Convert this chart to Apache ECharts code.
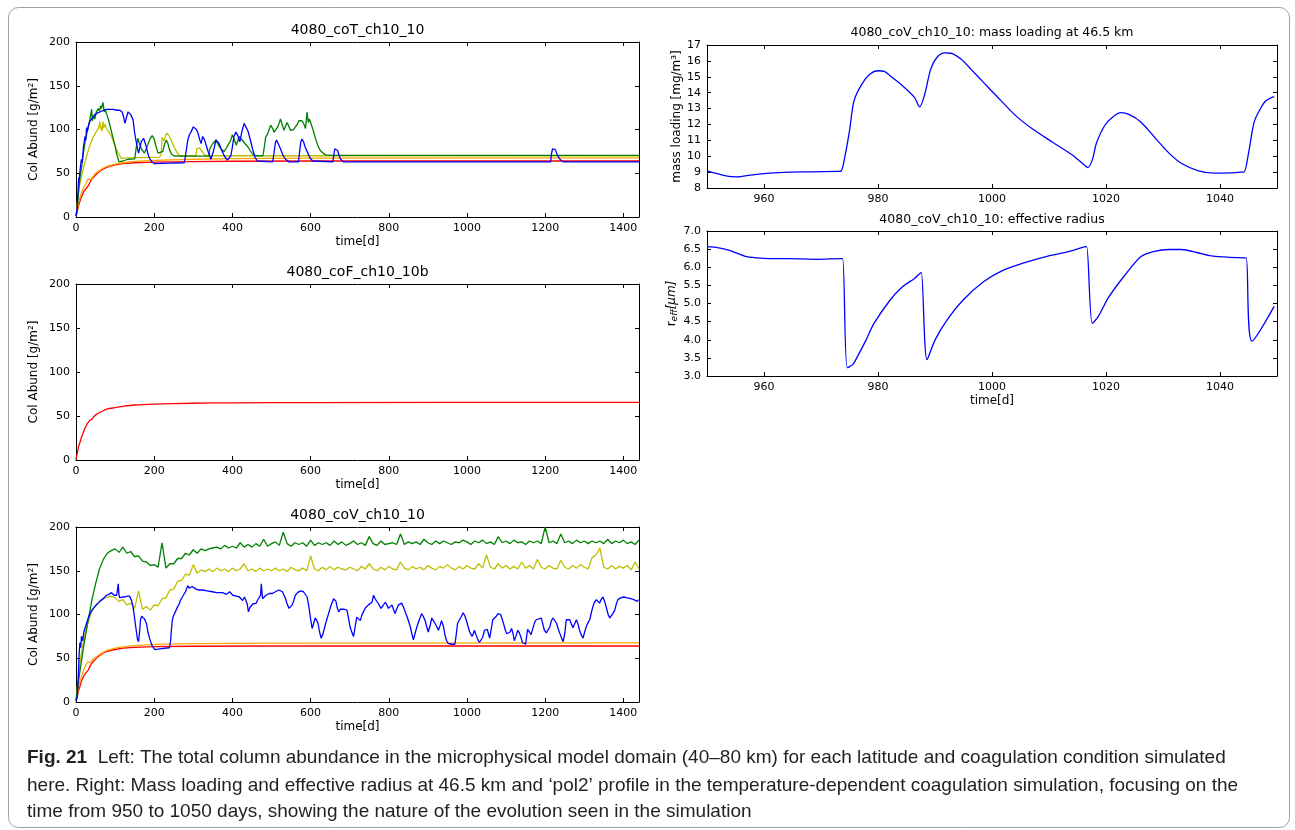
<!DOCTYPE html>
<html><head><meta charset="utf-8">
<script src="https://cdn.jsdelivr.net/npm/echarts@6/dist/echarts.min.js"></script>
<style>html,body{margin:0;padding:0;background:#fff}#c{width:1295px;height:830px}</style>
</head><body><div id="c"></div>
<script>
// ---------- Titles / labels ----------
const titles = ['4080_coT_ch10_10', '4080_coF_ch10_10b', '4080_coV_ch10_10',
  '4080_coV_ch10_10: mass loading at 46.5 km', '4080_coV_ch10_10: effective radius'];
const leftYTicks = [0, 50, 100, 150, 200];
const leftXTicks = [0, 200, 400, 600, 800, 1000, 1200, 1400];
const rightXTicks = [960, 980, 1000, 1020, 1040];

// ---------- Plot 1: 4080_coT_ch10_10 ----------
const coT_red = [[0,1],[3,6],[6,12],[10,18],[15,24],[20,29],[25,32],[28,31],[32,36],[36,40],[40,43],[45,45],[50,48],[60,52],[70,55],[80,57],[100,59.5],[120,61],[150,62],[200,62.8],[300,63.3],[400,63.7],[600,64],[1440,64]];
const coT_orange = [[0,1],[3,8],[6,15],[10,22],[15,29],[20,34],[25,38],[30,43],[34,45],[38,43],[45,47],[50,50],[60,53],[70,56],[80,58],[100,60.5],[120,62],[150,63.5],[200,64.8],[300,66],[400,66.8],[600,67.3],[1440,67.5]];
const coT_yellow = [[0,1],[3,15],[6,28],[10,38],[15,48],[20,58],[25,66],[32,77],[38,85],[44,91],[50,96],[57,101],[60,106],[61,109],[63,100],[65,104],[67,98],[69,109],[71,102],[74,106],[78,101],[82,99],[91,92],[99,82],[108,73],[116,67],[133,67.5],[171,68],[214,68.5],[218,72],[220,91],[223,89],[225,87],[229,93],[233,96],[236,95],[239,92],[246,85],[252,79],[258,74],[265,70],[307,70],[309,78],[311,80],[316,79],[320,78],[324,74],[328,71],[337,70],[1440,70]];
const coT_green = [[0,1],[3,10],[7,30],[10,45],[14,56],[18,70],[22,82],[25,90],[27,92],[30,100],[33,106],[36,112],[38,118],[40,123],[42,110],[45,116],[48,112],[52,120],[55,118],[57,124],[60,121],[63,127],[65,124],[67,126],[69,131],[71,124],[72,120],[75,123],[78,118],[82,113],[86,106],[92,95],[99,83],[104,72],[110,63],[115,63],[120,64],[133,66],[150,66.5],[154,68],[156,85],[158,90],[162,84],[167,78],[175,73],[184,83],[190,90],[195,93],[200,89],[205,80],[210,73],[214,71],[222,75],[227,84],[231,88],[235,84],[239,77],[244,72],[250,70],[265,69.5],[340,69.5],[342,78],[350,84],[358,88],[362,84],[366,81],[372,77],[379,75],[385,79],[390,77],[396,88],[400,94],[405,88],[410,82],[413,80],[417,92],[420,94],[425,88],[432,84],[440,80],[451,72],[460,70],[478,70],[481,78],[485,91],[490,95],[494,100],[498,105],[503,101],[507,97],[511,95],[516,103],[520,108],[523,112],[527,106],[532,99],[536,104],[540,108],[545,103],[549,99],[553,97],[557,100],[561,103],[566,106],[570,110],[574,112],[578,110],[583,106],[587,101],[589,99],[591,120],[594,108],[597,112],[600,110],[606,100],[613,89],[619,81],[625,76],[632,73],[638,71],[655,70.5],[1440,70.5]];
const coT_blue = [[0,1],[3,8],[5,30],[7,45],[8,40],[10,52],[12,60],[14,66],[16,62],[19,80],[21,78],[23,92],[25,88],[27,102],[29,98],[32,105],[36,110],[40,112],[44,114],[48,117],[55,119],[61,120],[70,122],[78,123],[95,123],[105,122],[112,122],[118,120],[122,114],[125,107],[128,112],[133,120],[137,118],[140,117],[146,111],[150,96],[154,86],[157,79],[160,73],[163,71],[167,86],[173,90],[176,88],[180,80],[184,72],[188,67],[194,63],[201,61],[239,61.5],[277,62],[280,70],[286,88],[290,94],[294,97],[300,103],[303,104],[308,100],[312,96],[316,89],[320,84],[324,92],[328,89],[333,82],[337,76],[341,71],[345,66],[348,65],[352,76],[358,88],[362,90],[366,84],[372,77],[379,70],[387,65],[392,64],[396,70],[400,80],[404,92],[409,97],[414,93],[419,86],[424,97],[430,107],[434,106],[440,98],[446,88],[452,77],[458,68],[464,64],[468,63],[503,63],[506,72],[510,85],[513,88],[517,86],[523,78],[530,70],[536,66],[545,63],[569,63],[572,75],[575,86],[578,89],[582,86],[586,80],[591,75],[598,68],[605,64],[608,63],[657,63],[659,70],[662,78],[665,80],[669,76],[673,70],[677,66],[684,63],[1214,63],[1216,72],[1219,78],[1222,80],[1226,77],[1231,71],[1236,67],[1242,64],[1248,63],[1440,63]];

// ---------- Plot 2: 4080_coF_ch10_10b ----------
const coF_red = [[0,1],[3,7],[6,14],[10,20],[15,27],[20,33],[25,38],[30,42],[35,45],[40,46],[45,49],[50,51],[60,54],[70,56],[80,58],[100,59.5],[120,61],[150,62.5],[200,63.5],[300,64.5],[400,65],[600,65.3],[1440,65.5]];

// ---------- Plot 3: 4080_coV_ch10_10 ----------
const coV_red = [[0,1],[3,6],[6,12],[10,18],[15,25],[20,30],[25,33],[28,32],[32,37],[36,41],[40,44],[45,46],[50,49],[60,53],[70,56],[80,58],[100,60],[120,61.5],[150,62.5],[200,63.2],[300,63.7],[500,64],[1440,64]];
const coV_orange = [[0,1],[3,8],[6,16],[10,23],[15,31],[20,37],[25,42],[30,46],[33,47],[37,45],[42,48],[50,51],[60,54],[70,57],[80,59],[100,61.5],[120,63],[150,64.5],[200,65.8],[300,66.7],[500,67.2],[1440,67.5]];
// sampled every 10 days, from day 0 to day 1440
const coV_green = [
 2,35,65,90,115,135,152,163,170,173,
 175,171,177,170,172,166,167,161,160,156,
 157,154,182,153,158,158,164,164,170,168,
 174,170,175,173,175,176,177,175,179,176,
 178,176,182,177,180,177,181,178,186,178,
 181,183,179,194,181,178,182,180,182,178,
 185,179,182,180,182,179,184,180,183,179,
 181,184,180,182,179,189,181,179,184,180,
 181,182,180,192,180,183,181,183,180,186,
 182,180,184,181,184,182,180,183,182,185,
 183,180,184,182,185,181,183,180,189,182,
 184,181,185,182,183,180,184,182,184,181,
 200,182,184,181,192,182,184,181,185,182,
 184,181,184,182,184,181,186,181,184,182,
 185,181,183,180,185];
const coV_yellow = [
 2,45,72,90,103,110,115,118,120,121,
 119,115,117,111,113,107,127,106,109,105,
 111,110,118,119,128,129,138,139,146,145,
 157,147,151,149,152,149,153,150,152,149,
 153,150,152,158,150,152,149,153,150,152,
 150,153,150,152,149,154,151,150,153,150,
 167,152,150,154,151,155,151,154,152,151,
 154,152,150,155,152,158,152,150,154,151,
 155,152,151,160,153,151,155,152,154,151,
 156,153,151,155,153,157,153,151,155,152,
 156,153,152,158,153,168,154,152,158,153,
 156,152,155,152,160,153,156,152,163,154,
 152,156,153,152,162,154,152,156,153,157,
 154,152,165,168,176,154,152,156,152,155,
 153,156,151,160,152];
const coV_blue = [[0,1],[3,5],[6,30],[8,55],[10,68],[12,62],[14,75],[17,70],[20,80],[23,82],[27,90],[32,97],[38,103],[44,107],[50,110],[55,112],[61,115],[66,117],[72,119],[78,122],[84,123],[91,125],[97,122],[100,124],[104,122],[106,128],[108,135],[110,122],[112,119],[118,120],[125,120],[131,121],[137,121],[142,116],[146,109],[150,95],[154,82],[157,72],[160,69],[163,82],[165,94],[168,98],[171,99],[175,95],[180,90],[184,80],[188,73],[194,65],[201,60],[210,60.5],[218,61],[239,62],[242,70],[244,82],[246,92],[248,97],[251,100],[254,103],[257,105],[260,109],[264,112],[267,116],[272,120],[277,122],[280,126],[283,128],[286,133],[290,130],[297,132],[302,130],[307,129],[315,128],[324,128],[335,127],[349,126],[360,125],[375,125],[385,123],[393,126],[401,122],[410,121],[418,120],[426,116],[431,120],[435,122],[438,112],[441,103],[445,108],[448,110],[452,112],[457,114],[461,113],[464,116],[468,118],[472,122],[474,135],[477,118],[481,120],[486,122],[494,124],[502,124],[510,126],[519,128],[524,126],[528,126],[532,122],[536,118],[540,112],[545,107],[549,109],[553,111],[557,116],[561,122],[567,125],[574,127],[578,126],[582,126],[587,124],[591,120],[594,113],[597,105],[600,95],[604,84],[608,90],[612,96],[616,93],[619,90],[623,80],[627,73],[631,77],[634,82],[640,92],[646,101],[652,110],[659,118],[662,117],[665,115],[668,108],[672,103],[676,106],[680,108],[686,106],[693,105],[697,96],[701,86],[706,79],[710,75],[714,86],[718,97],[722,95],[727,93],[731,99],[735,103],[741,108],[748,111],[752,112],[757,114],[761,122],[765,118],[769,116],[774,112],[780,107],[785,110],[791,114],[795,111],[799,107],[803,109],[808,111],[812,106],[816,101],[820,106],[825,111],[829,112],[833,113],[838,108],[842,103],[848,96],[855,86],[859,78],[863,71],[867,78],[872,86],[878,94],[884,101],[888,98],[893,93],[897,86],[901,80],[906,88],[910,96],[914,93],[918,90],[923,86],[927,82],[931,87],[935,93],[940,86],[944,76],[948,70],[952,67],[960,66],[969,66],[972,75],[976,90],[981,92],[986,98],[990,102],[994,99],[998,94],[1003,86],[1007,80],[1013,75],[1016,78],[1019,82],[1023,77],[1028,71],[1032,68],[1036,67.5],[1040,74],[1045,82],[1049,84],[1052,83],[1055,78],[1058,73],[1062,83],[1066,94],[1071,96],[1075,98],[1079,101],[1083,103],[1086,100],[1089,96],[1094,89],[1098,82],[1102,78],[1106,77],[1110,80],[1114,84],[1118,78],[1121,70],[1125,75],[1130,82],[1134,79],[1138,74],[1142,68],[1146,66],[1150,66],[1155,83],[1160,80],[1164,77],[1169,85],[1173,91],[1177,94],[1184,95],[1190,96],[1194,89],[1198,82],[1203,79],[1207,77],[1212,86],[1216,93],[1220,96],[1225,94],[1229,90],[1233,84],[1237,79],[1242,73],[1246,69],[1250,78],[1254,94],[1259,95],[1263,94],[1267,89],[1271,85],[1276,90],[1280,94],[1284,89],[1288,82],[1292,77],[1297,73],[1301,80],[1305,86],[1310,91],[1314,94],[1318,102],[1322,109],[1326,114],[1331,117],[1335,115],[1339,113],[1343,117],[1348,120],[1352,115],[1356,109],[1361,100],[1365,96],[1369,96],[1373,101],[1378,105],[1382,112],[1386,117],[1390,118],[1393,119],[1397,118],[1401,120],[1406,118],[1410,119],[1414,117.5],[1420,118],[1427,117],[1431,116],[1435,115],[1440,117]];

// ---------- Right plots ----------
const massLoading = [[950,9.08],[953.8,8.73],[955.2,8.70],[958,8.83],[960.9,8.93],[964.4,9.0],[968,9.02],[973,9.05],[973.5,9.06],[974.3,10.18],[975,11.6],[975.8,13.5],[977.2,14.55],[978.6,15.17],[980,15.38],[981.1,15.34],[982.1,15.07],[984.3,14.44],[986.4,13.7],[987.3,13.1],[988.2,13.9],[989.2,15.42],[990.3,16.2],[991.7,16.5],[992.8,16.48],[994.6,16.1],[996.3,15.48],[998.5,14.65],[1001.3,13.6],[1004.1,12.57],[1007,11.74],[1010.5,10.91],[1014.1,10.08],[1016.2,9.45],[1016.8,9.29],[1017.6,9.77],[1018.3,10.8],[1019.8,11.95],[1021.2,12.47],[1022.6,12.74],[1024,12.63],[1026.1,12.16],[1029,11.0],[1031.1,10.18],[1033.2,9.56],[1036.1,9.1],[1038.9,8.93],[1041.8,8.95],[1043.7,9.0],[1044.2,9.0],[1045,10.18],[1046,12.16],[1047.1,13.0],[1048.1,13.5],[1049.5,13.75]];
const effRadius = [[950,6.57],[951.6,6.55],[953.8,6.47],[956.6,6.31],[958.7,6.26],[960.9,6.24],[964.4,6.24],[969.4,6.22],[973.3,6.24],[973.8,6.24],[974.6,3.23],[975.6,3.32],[976.5,3.57],[977.9,3.99],[979.3,4.45],[982.1,5.09],[984.3,5.46],[986.4,5.69],[987.3,5.82],[987.6,5.85],[988.6,3.45],[990,3.99],[992.1,4.54],[994.9,5.09],[998.5,5.6],[1002,5.92],[1005.6,6.12],[1009.8,6.31],[1013.4,6.43],[1016.2,6.56],[1016.6,6.57],[1017.6,4.45],[1018.6,4.63],[1020.5,5.18],[1023.3,5.78],[1026.1,6.29],[1028.3,6.43],[1031.1,6.49],[1033.2,6.49],[1036.1,6.40],[1038.2,6.32],[1041.8,6.27],[1044.1,6.26],[1044.6,6.26],[1045.6,3.96],[1049.5,4.92]];

const captionLines = [
  'Left: The total column abundance in the microphysical model domain (40\u201380 km) for each latitude and coagulation condition simulated',
  'here. Right: Mass loading and effective radius at 46.5 km and \u2018pol2\u2019 profile in the temperature-dependent coagulation simulation, focusing on the',
  'time from 950 to 1050 days, showing the nature of the evolution seen in the simulation'];
const figLabel = 'Fig. 21';

// ---------- Build ----------
const C = {red:'#ff0000', orange:'#ffa500', yellow:'#bfbf00', green:'#008000', blue:'#0000ff'};
const F = 'DejaVu Sans';
const step10 = arr => arr.map((v, i) => [i * 10, v]);

const grids = [
  {left:76, top:42, width:563, height:175},
  {left:76, top:284, width:563, height:176},
  {left:76, top:527, width:563, height:175},
  {left:707, top:45, width:570, height:143},
  {left:707, top:231, width:570, height:145}
];
const lineC = {lineStyle:{color:'#000', width:1}};
function xAxes(gi, cfg) {
  const base = {type:'value', gridIndex:gi, min:cfg.min, max:cfg.max, splitLine:{show:false},
    axisLine:Object.assign({show:true, onZero:false}, lineC)};
  const tick = {show:true, inside:true, length:4, lineStyle:{color:'#000'}};
  if (cfg.interval) base.interval = cfg.interval;
  if (cfg.custom) tick.customValues = cfg.custom;
  const bottom = Object.assign({}, base, {position:'bottom', axisTick:tick,
    axisLabel:{show:true, color:'#000', fontFamily:F, fontSize:11, margin:6, formatter:v => String(v)}});
  if (cfg.custom) bottom.axisLabel.customValues = cfg.custom;
  else bottom.axisLabel.showMaxLabel = false;
  if (cfg.name) Object.assign(bottom, {name:cfg.name, nameLocation:'middle', nameGap:19,
    nameTextStyle:{color:'#000', fontFamily:F, fontSize:12}});
  const top = Object.assign({}, base, {position:'top', axisTick:tick, axisLabel:{show:false}});
  return [bottom, top];
}
function yAxes(gi, cfg) {
  const base = {type:'value', gridIndex:gi, min:cfg.min, max:cfg.max, interval:cfg.interval, splitLine:{show:false},
    axisLine:Object.assign({show:true, onZero:false}, lineC),
    axisTick:{show:true, inside:true, length:4, lineStyle:{color:'#000'}}};
  const left = Object.assign({}, base, {position:'left',
    axisLabel:{show:true, color:'#000', fontFamily:F, fontSize:11, margin:6,
      formatter: cfg.fmt || (v => String(v))},
    name:cfg.name, nameLocation:'middle', nameGap:cfg.gap,
    nameTextStyle:{color:'#000', fontFamily:F, fontSize:12, rich:cfg.rich}});
  const right = Object.assign({}, base, {position:'right', axisLabel:{show:false}});
  return [left, right];
}
const xAxis = [].concat(
  xAxes(0, {min:0, max:1440, interval:200, name:'time[d]'}),
  xAxes(1, {min:0, max:1440, interval:200, name:'time[d]'}),
  xAxes(2, {min:0, max:1440, interval:200, name:'time[d]'}),
  xAxes(3, {min:950, max:1050, custom:rightXTicks}),
  xAxes(4, {min:950, max:1050, custom:rightXTicks, name:'time[d]'})
);
const yAxis = [].concat(
  yAxes(0, {min:0, max:200, interval:50, name:'Col Abund [g/m\u00b2]', gap:36}),
  yAxes(1, {min:0, max:200, interval:50, name:'Col Abund [g/m\u00b2]', gap:36}),
  yAxes(2, {min:0, max:200, interval:50, name:'Col Abund [g/m\u00b2]', gap:36}),
  yAxes(3, {min:8, max:17, interval:1, name:'mass loading [mg/m\u00b3]', gap:24}),
  yAxes(4, {min:3, max:7, interval:0.5, fmt:v => v.toFixed(1),
    name:'r{sub|eff}{it|[\u03bcm]}', gap:26,
    rich:{sub:{fontSize:9, fontStyle:'italic', fontFamily:F, color:'#000', padding:[6,0,0,0]},
          it:{fontSize:12, fontStyle:'italic', fontFamily:F, color:'#000'}}})
);
function S(gi, data, color, smooth) {
  const s = {type:'line', xAxisIndex:gi*2, yAxisIndex:gi*2, data:data, symbol:'none', showSymbol:false,
    lineStyle:{color:color, width:1.3}, itemStyle:{color:color}, silent:true, animation:false};
  if (smooth) s.smooth = smooth;
  return s;
}
const series = [
  S(0, coT_red, C.red), S(0, coT_orange, C.orange), S(0, coT_yellow, C.yellow), S(0, coT_green, C.green), S(0, coT_blue, C.blue),
  S(1, coF_red, C.red, 0.3),
  S(2, coV_red, C.red), S(2, coV_orange, C.orange), S(2, step10(coV_yellow), C.yellow), S(2, step10(coV_green), C.green), S(2, coV_blue, C.blue),
  S(3, massLoading, C.blue, 0.3), S(4, effRadius, C.blue, 0.3)
];

// caption font fit
const CF = "'Liberation Sans', Arial, sans-serif";
const cv = document.createElement('canvas').getContext('2d');
cv.font = 'bold 18px ' + CF; const wFig = cv.measureText(figLabel + '  ').width;
cv.font = '18px ' + CF; const wL1 = cv.measureText(captionLines[0]).width;
const capSize = Math.min(19, 18 * 1225 / (wL1 + wFig));

const titlePos = [[357.5, 30], [357.5, 272], [357.5, 515], [992, 33], [992, 220]];
const graphic = titles.map((t, i) => ({type:'text', x:titlePos[i][0], y:titlePos[i][1], silent:true,
  style:{text:t, align:'center', verticalAlign:'middle', fontFamily:F, fontSize: i < 3 ? 14 : 12.5, fill:'#000'}}));
graphic.push({type:'rect', shape:{x:8.5, y:7.5, width:1281, height:820, r:10}, silent:true,
  style:{fill:'none', stroke:'#a0a0a0', lineWidth:1}});
graphic.push({type:'text', x:27, y:758, silent:true,
  style:{text:'{b|' + figLabel + '}  ' + captionLines[0], verticalAlign:'middle', fontFamily:CF, fontSize:capSize, fill:'#231f20',
    rich:{b:{fontWeight:'bold', fontFamily:CF, fontSize:capSize, fill:'#231f20'}}}});
graphic.push({type:'text', x:27, y:786, silent:true,
  style:{text:captionLines[1], verticalAlign:'middle', fontFamily:CF, fontSize:capSize, fill:'#231f20'}});
graphic.push({type:'text', x:27, y:812, silent:true,
  style:{text:captionLines[2], verticalAlign:'middle', fontFamily:CF, fontSize:capSize, fill:'#231f20'}});

const chart = echarts.init(document.getElementById('c'), null, {renderer:'canvas'});
chart.setOption({animation:false, backgroundColor:'#fff', grid:grids, xAxis:xAxis, yAxis:yAxis, series:series, graphic:graphic});
</script></body></html>
